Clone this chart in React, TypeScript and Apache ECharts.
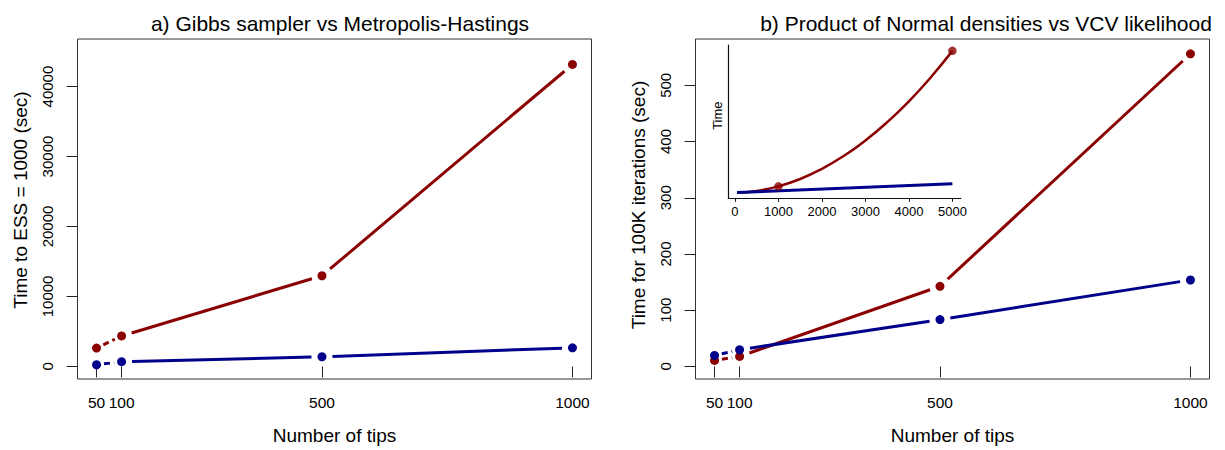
import React, { useEffect, useRef } from "react";
import * as echarts from "echarts";

// ---------- data ----------
const tips = [50, 100, 500, 1000];
const tipTicks = [50, 100, 500, 1000];

// panel a: time to ESS = 1000 (sec)
const mhTime = [2620, 4350, 12960, 43160]; // Metropolis-Hastings (dark red)
const gibbsTime = [240, 670, 1380, 2660]; // Gibbs sampler (dark blue)
const essTicks = [0, 10000, 20000, 30000, 40000];

// panel b: time for 100K iterations (sec)
const vcvTime = [10.6, 17.7, 142.5, 556]; // VCV likelihood (dark red)
const normTime = [19.5, 29.6, 83.3, 153.7]; // product of Normal densities (dark blue)
const iterTicks = [0, 100, 200, 300, 400, 500];

// inset: extrapolation to 5000 tips
const insetN = [50, 500, 1000, 1500, 2000, 2500, 3000, 3500, 4000, 4500, 5000];
const insetVcv = [20, 160, 556, 1180, 2050, 3140, 4460, 6020, 7800, 9830, 12100];
const insetNormN = [50, 5000];
const insetNorm = [20, 785];
const insetMarked = [1000, 5000];
const insetTicks = [0, 1000, 2000, 3000, 4000, 5000];

const RED = "#8B0000";
const BLUE = "#00008B";
const FONT = "'Liberation Sans', Arial, Helvetica, sans-serif";
const plain = (v: number) => String(v);

function segSeries(name: string, xs: number[], ys: number[], color: string, axis: number) {
  const data: number[][] = [];
  for (let i = 0; i < xs.length - 1; i++) {
    data.push([xs[i], ys[i], xs[i + 1], ys[i + 1], i === 0 ? 1 : 0]);
  }
  return {
    type: "custom",
    name,
    xAxisIndex: axis,
    yAxisIndex: axis,
    encode: { x: [0, 2], y: [1, 3] },
    data,
    silent: true,
    z: 2,
    renderItem: (_params: any, api: any) => {
      const p0 = api.coord([api.value(0), api.value(1)]);
      const p1 = api.coord([api.value(2), api.value(3)]);
      const dashed = api.value(4) === 1;
      const dx = p1[0] - p0[0];
      const dy = p1[1] - p0[1];
      const len = Math.hypot(dx, dy) || 1;
      const g = dashed ? 7.5 : 10.5;
      const ux = dx / len;
      const uy = dy / len;
      return {
        type: "line",
        shape: { x1: p0[0] + ux * g, y1: p0[1] + uy * g, x2: p1[0] - ux * g, y2: p1[1] - uy * g },
        style: { stroke: color, lineWidth: 3, lineDash: dashed ? [6, 4] : null, lineCap: "butt", fill: null },
      };
    },
  };
}

function pointSeries(name: string, xs: number[], ys: number[], color: string, axis: number) {
  return {
    type: "scatter",
    name,
    xAxisIndex: axis,
    yAxisIndex: axis,
    data: xs.map((x, i) => [x, ys[i]]),
    symbol: "circle",
    symbolSize: 9,
    itemStyle: { color, opacity: 1 },
    z: 3,
  };
}

const mainX = (gridIndex: number) => ({
  type: "value",
  gridIndex,
  min: 12,
  max: 1038,
  name: "Number of tips",
  nameLocation: "middle",
  nameGap: 47,
  nameTextStyle: { fontSize: 19, color: "#000", fontFamily: FONT },
  axisLine: { show: false },
  axisTick: { show: true, inside: false, length: 11, customValues: tipTicks, lineStyle: { color: "#222", width: 1 } },
  axisLabel: { show: true, customValues: tipTicks, formatter: plain, fontSize: 15.5, color: "#000", margin: 15, fontFamily: FONT },
  splitLine: { show: false },
});

const mainY = (gridIndex: number, min: number, max: number, ticks: number[], name: string, shift: number) => ({
  type: "value",
  gridIndex,
  min,
  max,
  name,
  nameLocation: "middle",
  nameGap: 48,
  nameTextStyle: { fontSize: 19, color: "#000", fontFamily: FONT, padding: [0, 0, 0, shift] },
  axisLine: { show: false },
  axisTick: { show: true, inside: false, length: 11, customValues: ticks, lineStyle: { color: "#222", width: 1 } },
  axisLabel: { show: true, customValues: ticks, formatter: plain, fontSize: 15, color: "#000", margin: 23, rotate: 90, fontFamily: FONT },
  splitLine: { show: false },
});

export default function App() {
  const ref = useRef<HTMLDivElement>(null);

  useEffect(() => {
    document.body.style.margin = "0";
    if (!ref.current) return;
    const chart = echarts.init(ref.current, undefined, { renderer: "svg" });

    const option: any = {
      animation: false,
      backgroundColor: "#fff",
      textStyle: { fontFamily: FONT },
      title: [
        {
          text: "a) Gibbs sampler vs Metropolis-Hastings",
          left: 340,
          top: 13,
          textAlign: "center",
          padding: 0,
          textStyle: { fontSize: 21, fontWeight: "normal", color: "#000", fontFamily: FONT },
        },
        {
          text: "b) Product of Normal densities vs VCV likelihood",
          left: 986,
          top: 13,
          textAlign: "center",
          padding: 0,
          textStyle: { fontSize: 21, fontWeight: "normal", color: "#000", fontFamily: FONT },
        },
      ],
      grid: [
        { left: 77.5, top: 39, width: 514, height: 341, show: true, borderColor: "#333", borderWidth: 1, backgroundColor: "transparent" },
        { left: 695.5, top: 39, width: 514, height: 341, show: true, borderColor: "#333", borderWidth: 1, backgroundColor: "transparent" },
        { left: 728.5, top: 45, width: 232.5, height: 153.3, show: false },
      ],
      xAxis: [
        mainX(0),
        mainX(1),
        {
          type: "value",
          gridIndex: 2,
          min: -148,
          max: 5198,
          axisLine: { show: true, onZero: false, lineStyle: { color: "#111", width: 1.2 } },
          axisTick: { show: true, inside: false, length: 3.5, customValues: insetTicks, lineStyle: { color: "#111" } },
          axisLabel: { show: true, customValues: insetTicks, formatter: plain, fontSize: 13, color: "#000", margin: 7, fontFamily: FONT },
          splitLine: { show: false },
        },
      ],
      yAxis: [
        mainY(0, -1800, 46800, essTicks, "Time to ESS = 1000 (sec)", 18),
        mainY(1, -22.4, 582.4, iterTicks, "Time for 100K iterations (sec)", 8),
        {
          type: "value",
          gridIndex: 2,
          min: -464,
          max: 12600,
          name: "Time",
          nameLocation: "middle",
          nameGap: 5,
          nameTextStyle: { fontSize: 13, color: "#000", fontFamily: FONT, padding: [0, 0, 0, 12] },
          axisLine: { show: true, onZero: false, lineStyle: { color: "#111", width: 1.2 } },
          axisTick: { show: false },
          axisLabel: { show: false },
          splitLine: { show: false },
        },
      ],
      series: [
        segSeries("Metropolis-Hastings", tips, mhTime, RED, 0),
        pointSeries("Metropolis-Hastings", tips, mhTime, RED, 0),
        segSeries("Gibbs sampler", tips, gibbsTime, BLUE, 0),
        pointSeries("Gibbs sampler", tips, gibbsTime, BLUE, 0),
        segSeries("VCV likelihood", tips, vcvTime, RED, 1),
        pointSeries("VCV likelihood", tips, vcvTime, RED, 1),
        segSeries("Product of Normal densities", tips, normTime, BLUE, 1),
        pointSeries("Product of Normal densities", tips, normTime, BLUE, 1),
        {
          type: "line",
          name: "VCV likelihood (inset)",
          xAxisIndex: 2,
          yAxisIndex: 2,
          data: insetN.map((n, i) => [n, insetVcv[i]]),
          smooth: true,
          showSymbol: false,
          symbol: "none",
          lineStyle: { color: RED, width: 2.5 },
          z: 2,
        },
        {
          type: "line",
          name: "Product of Normal densities (inset)",
          xAxisIndex: 2,
          yAxisIndex: 2,
          data: insetNormN.map((n, i) => [n, insetNorm[i]]),
          showSymbol: false,
          symbol: "none",
          lineStyle: { color: BLUE, width: 3 },
          z: 2,
        },
        {
          type: "scatter",
          name: "VCV likelihood (inset points)",
          xAxisIndex: 2,
          yAxisIndex: 2,
          data: insetMarked.map((n) => [n, insetVcv[insetN.indexOf(n)]]),
          symbolSize: 8.5,
          itemStyle: { color: RED },
          z: 3,
        },
      ],
    };

    chart.setOption(option);
    return () => chart.dispose();
  }, []);

  return <div ref={ref} style={{ width: 1225, height: 450 }} />;
}
